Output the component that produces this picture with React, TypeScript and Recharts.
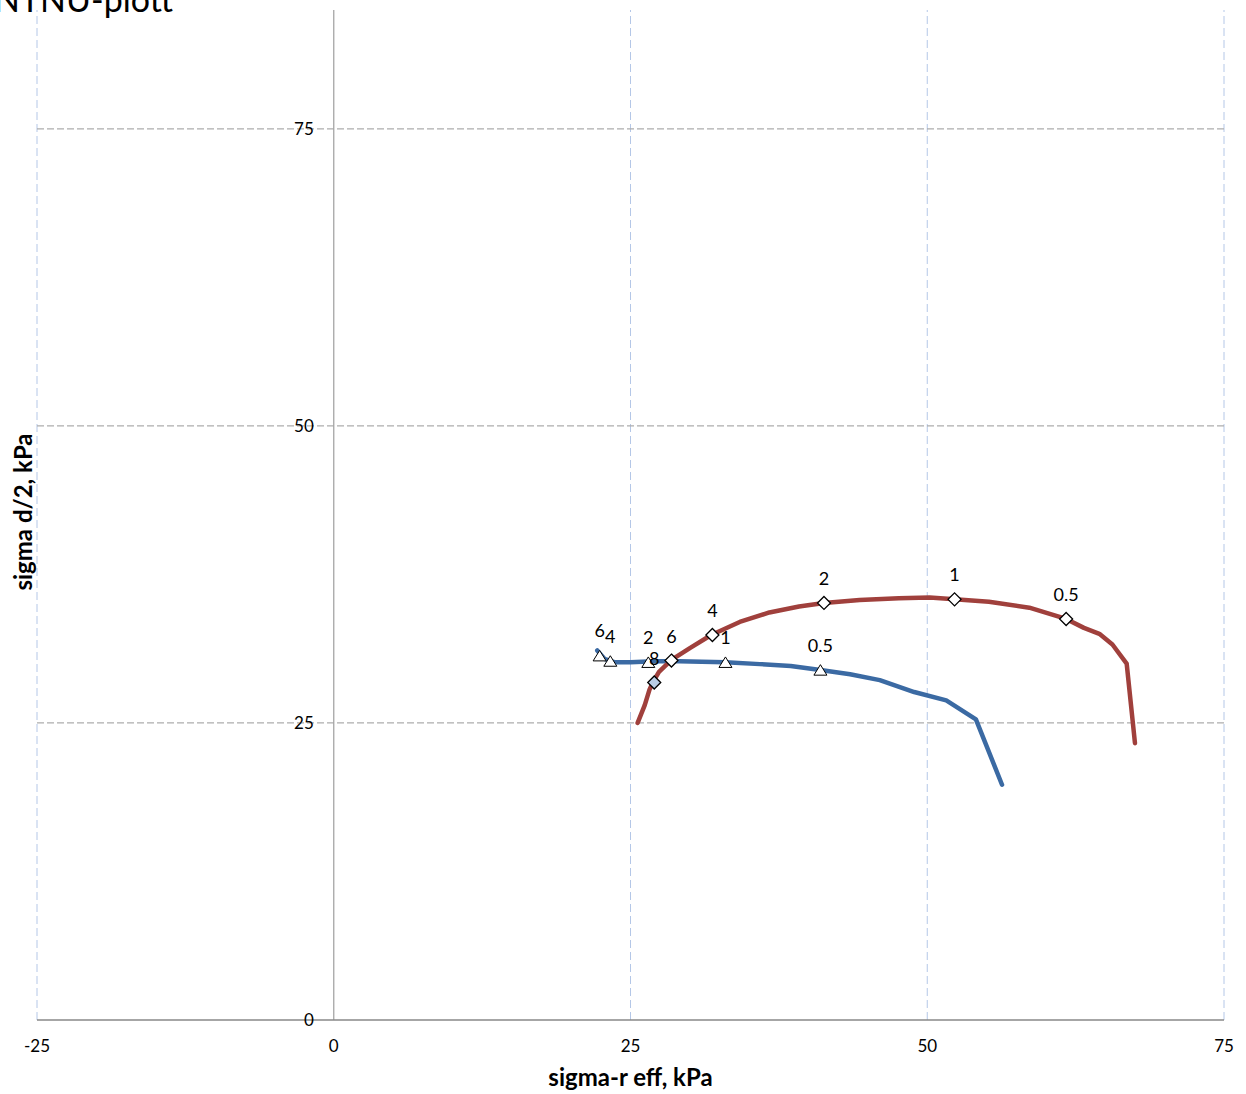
import React from 'react';
import {
  ComposedChart,
  Scatter,
  XAxis,
  YAxis,
  ReferenceLine,
  ReferenceDot,
  Label,
} from 'recharts';

// ---- axis ticks / grid ----
const xTicks = [-25, 0, 25, 50, 75];
const yTicks = [0, 25, 50, 75];
const xGridValues = [-25, 25, 50, 75];
const yGridValues = [25, 50, 75];

// ---- blue curve (path) ----
const blueLineX = [22.2, 22.8, 23.7, 25.0, 27.0, 29.1, 31.0, 33.0, 35.9, 38.5, 41.0, 43.5, 46.0, 48.9, 51.6, 54.1, 56.3];
const blueLineY = [31.1, 30.4, 30.1, 30.1, 30.2, 30.2, 30.15, 30.1, 29.95, 29.8, 29.45, 29.1, 28.6, 27.6, 26.9, 25.3, 19.8];

// ---- red curve (path) ----
const redLineX = [25.6, 26.2, 26.6, 26.9, 27.4, 28.45, 30.0, 31.8, 34.2, 36.7, 39.2, 41.3, 44.3, 47.6, 50.2, 52.3, 55.2, 58.6, 61.7, 63.2, 64.5, 65.6, 66.8, 67.5];
const redLineY = [25.0, 26.5, 27.8, 28.45, 29.3, 30.3, 31.3, 32.4, 33.5, 34.3, 34.8, 35.1, 35.35, 35.5, 35.55, 35.4, 35.2, 34.7, 33.75, 33.0, 32.5, 31.6, 30.0, 23.3];

// ---- blue triangle markers ----
const blueMarkLabels = ['6', '4', '2', '1', '0.5'];
const blueMarkX = [22.4, 23.3, 26.5, 33.0, 41.0];
const blueMarkY = [30.6, 30.15, 30.05, 30.05, 29.4];

// ---- red diamond markers ----
const redMarkLabels = ['8', '6', '4', '2', '1', '0.5'];
const redMarkX = [27.0, 28.45, 31.9, 41.3, 52.3, 61.7];
const redMarkY = [28.4, 30.25, 32.4, 35.1, 35.4, 33.75];

const zip = (xs: number[], ys: number[]) => xs.map((x, i) => ({ x, y: ys[i] }));
const zipL = (xs: number[], ys: number[], ls: string[]) =>
  xs.map((x, i) => ({ x, y: ys[i], label: ls[i] }));

const blueLine = zip(blueLineX, blueLineY);
const redLine = zip(redLineX, redLineY);
const blueMarks = zipL(blueMarkX, blueMarkY, blueMarkLabels);
const redMarks = zipL(redMarkX, redMarkY, redMarkLabels);

const FONT = 'Lato, "Open Sans", sans-serif';
const BLUE = '#3B6AA3';
const RED = '#A0403C';

const NoShape = () => <g />;

const TriangleShape = (props: any) => {
  const { cx, cy, payload } = props;
  if (cx == null || cy == null) return <g />;
  return (
    <g>
      <path
        d={`M${cx},${cy - 6} L${cx + 6.5},${cy + 4.5} L${cx - 6.5},${cy + 4.5} Z`}
        fill="#ffffff"
        stroke="#000000"
        strokeWidth={1}
      />
      <text x={cx} y={cy - 19} textAnchor="middle" fontSize={18} fontFamily={FONT} fill="#000">
        {payload.label}
      </text>
    </g>
  );
};

const DiamondShape = (props: any) => {
  const { cx, cy, payload } = props;
  if (cx == null || cy == null) return <g />;
  const fill = payload.label === '8' ? '#B9CDE5' : '#ffffff';
  return (
    <g>
      <path
        d={`M${cx},${cy - 6.5} L${cx + 6.5},${cy} L${cx},${cy + 6.5} L${cx - 6.5},${cy} Z`}
        fill={fill}
        stroke="#000000"
        strokeWidth={1.3}
      />
      <text x={cx} y={cy - 18} textAnchor="middle" fontSize={18} fontFamily={FONT} fill="#000">
        {payload.label}
      </text>
    </g>
  );
};

export default function App() {
  return (
    <div style={{ position: 'absolute', left: 0, top: 0, width: 1246, height: 1094, background: '#fff' }}>
      <ComposedChart
        width={1246}
        height={1094}
        margin={{ top: 10, left: 37, right: 22, bottom: 0 }}
      >
        <XAxis
          type="number"
          dataKey="x"
          domain={[-25, 75]}
          ticks={xTicks}
          allowDataOverflow
          height={74}
          axisLine={{ stroke: '#888888', strokeWidth: 1.5 }}
          tickLine={false}
          tickSize={0}
          tickMargin={20}
          tick={{ fill: '#000', fontSize: 17, fontFamily: FONT }}
        >
          <Label
            value="sigma-r eff, kPa"
            position="insideBottom"
            offset={8}
            style={{ fontSize: 24, fontWeight: 'bold', fontFamily: FONT, fill: '#000' }}
          />
        </XAxis>
        <YAxis type="number" dataKey="y" domain={[0, 85]} ticks={yTicks} hide width={0} allowDataOverflow />

        {xGridValues.map((v) => (
          <ReferenceLine key={`vx${v}`} x={v} stroke="#B4C7E7" strokeWidth={1} strokeDasharray="8 4" />
        ))}
        {yGridValues.map((v) => (
          <ReferenceLine key={`hy${v}`} y={v} stroke="#ADADAD" strokeWidth={1.2} strokeDasharray="7 3" />
        ))}
        <ReferenceLine x={0} stroke="#A6A6A6" strokeWidth={1.3} />
        {yTicks.map((v) => (
          <ReferenceDot
            key={`yt${v}`}
            x={0}
            y={v}
            r={0}
            fill="none"
            stroke="none"
            ifOverflow="visible"
            label={{ value: String(v), position: 'left', offset: 20, fontSize: 17, fontFamily: FONT, fill: '#000' }}
          />
        ))}

        <Scatter
          data={blueLine}
          line={{ stroke: BLUE, strokeWidth: 4.5, strokeLinecap: 'round', strokeLinejoin: 'round' }}
          shape={NoShape}
          isAnimationActive={false}
        />
        <Scatter
          data={redLine}
          line={{ stroke: RED, strokeWidth: 4.5, strokeLinecap: 'round', strokeLinejoin: 'round' }}
          shape={NoShape}
          isAnimationActive={false}
        />
        <Scatter data={blueMarks} shape={TriangleShape} isAnimationActive={false} />
        <Scatter data={redMarks} shape={DiamondShape} isAnimationActive={false} />
      </ComposedChart>
      <svg
        width={1246}
        height={1094}
        style={{ position: 'absolute', left: 0, top: 0, pointerEvents: 'none' }}
      >
        <text x={-6} y={12} fontSize={34} fontFamily={FONT} fill="#000">
          NTNU-plott
        </text>
        <text
          x={32}
          y={512}
          transform="rotate(-90, 32, 512)"
          textAnchor="middle"
          fontSize={24}
          fontWeight="bold"
          fontFamily={FONT}
          fill="#000"
        >
          sigma d/2, kPa
        </text>
      </svg>
    </div>
  );
}
